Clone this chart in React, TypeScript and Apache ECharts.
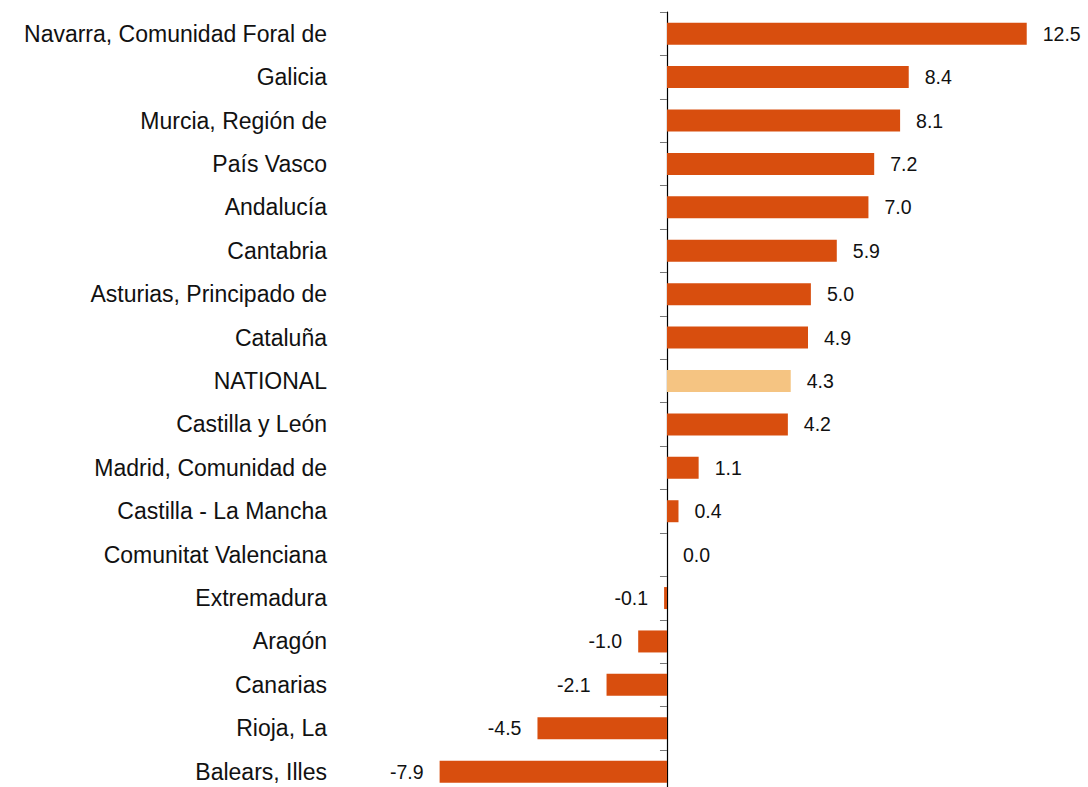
import React, { useEffect, useRef } from "react";
import * as echarts from "echarts";

const categories = [
  "Navarra, Comunidad Foral de",
  "Galicia",
  "Murcia, Región de",
  "País Vasco",
  "Andalucía",
  "Cantabria",
  "Asturias, Principado de",
  "Cataluña",
  "NATIONAL",
  "Castilla y León",
  "Madrid, Comunidad de",
  "Castilla - La Mancha",
  "Comunitat Valenciana",
  "Extremadura",
  "Aragón",
  "Canarias",
  "Rioja, La",
  "Balears, Illes",
];

const values = [12.5, 8.4, 8.1, 7.2, 7.0, 5.9, 5.0, 4.9, 4.3, 4.2, 1.1, 0.4, 0.0, -0.1, -1.0, -2.1, -4.5, -7.9];

const highlight = "NATIONAL";
const mainColor = "#D84E0E";
const highlightColor = "#F5C482";

export default function App() {
  const ref = useRef<HTMLDivElement>(null);
  useEffect(() => {
    if (!ref.current) return;
    const chart = echarts.init(ref.current, null, { renderer: "svg" });
    chart.setOption({
      animation: false,
      grid: {
        left: 350.4,
        top: 12,
        width: 719.5,
        height: 781.4,
        containLabel: false,
        outerBoundsMode: "none",
      },
      xAxis: {
        type: "value",
        min: -11,
        max: 14,
        show: false,
      },
      yAxis: {
        type: "category",
        inverse: true,
        data: categories,
        axisLine: { show: true, onZero: true, lineStyle: { color: "#000", width: 1.2 } },
        axisTick: { show: true, length: 7, lineStyle: { color: "#777", width: 1 } },
        axisLabel: {
          margin: 23.4,
          fontSize: 23,
          color: "#111",
          fontFamily: "Liberation Sans, Arial, sans-serif",
        },
        splitLine: { show: false },
      },
      series: [
        {
          type: "bar",
          barWidth: 22,
          data: values.map((v, i) => ({
            value: v,
            itemStyle: { color: categories[i] === highlight ? highlightColor : mainColor },
            label: { position: v < 0 ? "left" : "right" },
          })),
          label: {
            show: true,
            distance: 16,
            fontSize: 19.5,
            color: "#111",
            fontFamily: "Liberation Sans, Arial, sans-serif",
            formatter: (p: any) => Number(p.value).toFixed(1),
          },
        },
      ],
    });
    return () => chart.dispose();
  }, []);
  return (
    <div
      ref={ref}
      style={{ position: "fixed", left: 0, top: 0, width: 1088, height: 787, background: "#fff" }}
    />
  );
}
